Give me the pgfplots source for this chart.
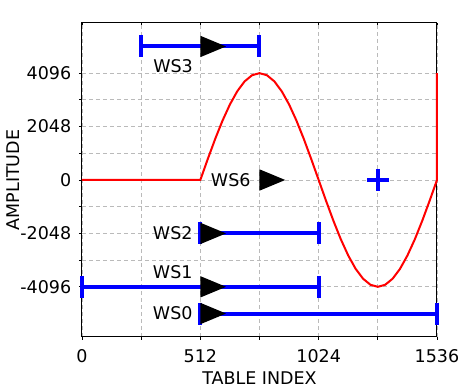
\documentclass[border=0pt]{standalone}
\usepackage{fontspec}
\setmainfont{DejaVu Sans}
\usepackage{pgfplots}
\pgfplotsset{compat=1.18}
\pgfdeclareplotmark{rtri}{%
  \pgfpathmoveto{\pgfqpoint{0pt}{-10.7pt}}%
  \pgfpathlineto{\pgfqpoint{25.7pt}{0pt}}%
  \pgfpathlineto{\pgfqpoint{0pt}{10.7pt}}%
  \pgfpathclose\pgfusepathqfill}
\newcommand\lf{\fontsize{17.5}{21}\selectfont}
\begin{document}
\begin{tikzpicture}
\begin{axis}[at={(0,0)}, anchor=south west, scale only axis, width=355pt, height=314pt,
  xmin=0, xmax=1536, ymin=-6020, ymax=6020,
  xtick={0,512,1024,1536}, xticklabels={},
  minor xtick={256,768,1280},
  ytick={-4096,-2048,0,2048,4096}, yticklabels={},
  minor ytick={-3072,-1024,1024,3072},
  xtick pos=right, ytick pos=right, tick align=inside,
  major tick length=3pt, minor tick length=3pt,
  tick style={black, line width=0.8pt},
  axis line style={line width=1pt}]
\end{axis}
\begin{axis}[at={(0,0)}, anchor=south west, scale only axis, width=355pt, height=314pt,
  xmin=0, xmax=1536, ymin=-6020, ymax=6020,
  xtick={0,512,1024,1536}, xticklabels={0,512,1024,1536},
  minor xtick={256,768,1280},
  ytick={-4096,-2048,0,2048,4096}, yticklabels={-4096,-2048,0,2048,4096},
  minor ytick={-3072,-1024,1024,3072},
  grid=both,
  major grid style={dash pattern=on 4pt off 3pt, color=black!27, line width=0.8pt},
  minor grid style={dash pattern=on 4pt off 3pt, color=black!27, line width=0.8pt},
  xtick pos=left, ytick pos=left, tick align=outside,
  major tick length=3pt, minor tick length=3pt,
  tick style={black, line width=0.8pt},
  axis line style={line width=1pt},
  clip=false,
  x tick label style={font=\lf, anchor=north, inner sep=0pt, yshift=-9pt},
  y tick label style={font=\lf, anchor=east, inner sep=0pt, xshift=-7.6pt},
  ]
% red waveform
\addplot[red, line width=2pt] coordinates {
(0,0) (512,0)
(544,799.1) (576,1567.5) (608,2275.6) (640,2896.3) (672,3405.7) (704,3784.2) (736,4017.3) (768,4096)
(800,4017.3) (832,3784.2) (864,3405.7) (896,2896.3) (928,2275.6) (960,1567.5) (992,799.1) (1024,0)
(1056,-799.1) (1088,-1567.5) (1120,-2275.6) (1152,-2896.3) (1184,-3405.7) (1216,-3784.2) (1248,-4017.3) (1280,-4096)
(1312,-4017.3) (1344,-3784.2) (1376,-3405.7) (1408,-2896.3) (1440,-2275.6) (1472,-1567.5) (1504,-799.1) (1536,0)
(1536,4096)
};
% window bars
\addplot[blue, line width=4pt, mark=|, mark size=11pt] coordinates {(256,5120) (768,5120)};
\addplot[blue, line width=4pt, mark=|, mark size=11pt] coordinates {(512,-2048) (1024,-2048)};
\addplot[blue, line width=4pt, mark=|, mark size=11pt] coordinates {(0,-4096) (1024,-4096)};
\addplot[blue, line width=4pt, mark=|, mark size=11pt] coordinates {(512,-5120) (1536,-5120)};
\addplot[blue, only marks, mark=+, mark size=10.8pt, mark options={line width=4pt}] coordinates {(1280,0)};
% direction arrows
\addplot[black, only marks, mark=rtri] coordinates {(512,5120) (768,0) (512,-2048) (512,-4096) (512,-5120)};
% labels
\node[font=\lf, inner sep=0pt] at (axis cs:394,4357) {WS3};
\node[font=\lf, inner sep=0pt, anchor=east] at (axis cs:730,0) {WS6};
\node[font=\lf, inner sep=0pt, anchor=east] at (axis cs:479,-2035) {WS2};
\node[font=\lf, inner sep=0pt, anchor=east] at (axis cs:479,-3520) {WS1};
\node[font=\lf, inner sep=0pt, anchor=east] at (axis cs:479,-5106) {WS0};
\node[font=\lf, anchor=base, inner sep=0pt] at ([yshift=-48pt]axis description cs:0.5,0) {TABLE INDEX};
\node[font=\lf, rotate=90, anchor=base, inner sep=0pt] at ([xshift=-62.7pt]axis description cs:0,0.5) {AMPLITUDE};
\end{axis}
\pgfresetboundingbox
\path[use as bounding box] (-82pt,-51pt) rectangle (390pt,337pt);
\end{tikzpicture}
\end{document}
